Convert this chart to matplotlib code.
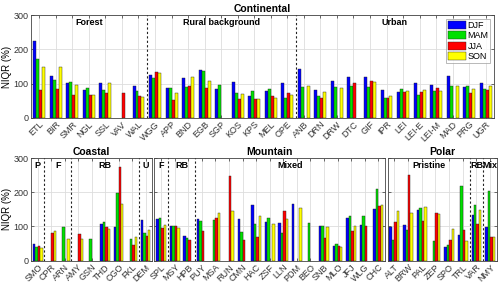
import numpy as np
import matplotlib
matplotlib.use('Agg')
import matplotlib.pyplot as plt
from matplotlib.patches import Patch

nan = np.nan

# Continental stations
cont_names = ['ETL', 'BIR', 'SMR', 'NGL', 'SSL', 'VAV', 'WAL', 'WGG', 'APP', 'BND',
              'EGB', 'SGP', 'KOS', 'KPS', 'MEL', 'OPE', 'ANB', 'DRN', 'DRW', 'DTC',
              'GIF', 'IPR', 'LEI', 'LEI-E', 'LEI-M', 'MAD', 'PRG', 'UGR']
cont_djf = [224, 123, 102, 80, 101, nan, 92, 126, 87, 117, 140, 83, 105, 63, 78, 101,
            143, 82, 107, 120, 120, 80, 75, 101, 95, 121, 91, 101]
cont_mam = [171, 109, 103, 86, 80, nan, 77, 116, 88, 89, 136, 96, 72, 78, 83, 59,
            91, 63, 89, 93, 90, 59, 83, 66, 78, 93, 93, 83]
cont_jja = [80, 85, 65, 67, 71, 72, 62, 133, 53, 93, 88, nan, 54, 55, 62, 71,
            nan, 59, nan, 102, 107, 59, 74, 74, 88, nan, 72, 81]
cont_son = [147, 147, 96, 67, 101, nan, 61, 130, 73, 119, 107, nan, 69, 56, 58, 66,
            93, 75, 87, nan, 104, 64, 78, 81, 79, 92, 84, 92]
cont_groups = [('Forest', 7), ('Rural background', 9), ('Urban', 12)]

# Coastal stations
coast_names = ['SMO', 'CPR', 'ARN', 'AMY', 'GSN', 'THD', 'CGO', 'FKL', 'DEM']
coast_djf = [49, nan, nan, nan, nan, 108, 97, nan, 119]
coast_mam = [41, nan, 98, nan, 63, 114, 197, 63, 81]
coast_jja = [43, 82, nan, 77, nan, 97, 273, 45, 73]
coast_son = [36, 88, 63, 63, nan, 92, 165, 70, 91]
coast_groups = [('P', 1), ('F', 2), ('RB', 5), ('U', 1)]

# Mountain stations
mount_names = ['SPL', 'MSY', 'HPB', 'PUY', 'MSA', 'RUN', 'CMN', 'HAC', 'ZSF', 'LLN',
               'PDM', 'BEO', 'SNB', 'MLO', 'JFJ', 'WLG', 'CHC']
mount_djf = [121, 101, 71, 122, nan, nan, 121, 162, 112, 109, 165, nan, 102, 43, 126, 104, 152]
mount_mam = [126, 101, 66, 116, 119, nan, 84, 107, 125, 81, nan, 111, 102, 48, 130, 130, 211]
mount_jja = [95, 100, 61, 87, 126, 247, 61, 69, nan, 145, nan, nan, 67, 43, 87, 102, 160]
mount_son = [105, 95, nan, nan, 140, 146, nan, 132, 108, 121, 153, nan, 97, 39, 101, nan, 162]
mount_groups = [('F', 1), ('RB', 2), ('Mixed', 14)]

# Polar stations
polar_names = ['ALT', 'BRW', 'PAL', 'ZEP', 'SPO', 'TRL', 'VAR', 'NMY']
polar_djf = [98, 103, 149, nan, 41, 74, 134, 98]
polar_mam = [61, 89, 153, 56, 45, 218, 162, 205]
polar_jja = [112, 252, 115, 140, 61, 90, 108, 70]
polar_son = [146, 138, 156, 136, 92, 57, 148, 68]
polar_groups = [('Pristine', 6), ('RB', 1), ('Mix', 1)]

seasons = ['DJF', 'MAM', 'JJA', 'SON']
colors = ['#0000ff', '#00e000', '#ff0000', '#ffff00']

plt.rcParams['font.family'] = ['Liberation Sans', 'DejaVu Sans']
plt.rcParams['font.size'] = 6.5
plt.rcParams['axes.edgecolor'] = '#444444'
plt.rcParams['xtick.color'] = '#333333'
plt.rcParams['ytick.color'] = '#333333'

fig = plt.figure(figsize=(5.0, 2.87), dpi=100)


def draw_panel(ax, names, series, groups, title, ylabel, ylabels=True, grp_fs=6.5):
    x = np.arange(len(names))
    w = 0.18
    for i, (vals, c) in enumerate(zip(series, colors)):
        ax.bar(x + (i - 1.5) * w, vals, width=w, color=c, edgecolor='#222222',
               linewidth=0.3, zorder=3)
    ax.set_xlim(-0.5, len(names) - 0.5)
    ax.set_ylim(0, 300)
    ax.set_yticks([0, 100, 200, 300])
    ax.set_xticks(x)
    ax.set_xticklabels(names, rotation=45, ha='right', rotation_mode='anchor', fontsize=6.5)
    ax.tick_params(direction='in', length=2, width=0.5, top=True, right=True, pad=2)
    ax.tick_params(axis='x', pad=1.5)
    if not ylabels:
        ax.set_yticklabels([])
    else:
        ax.set_ylabel(ylabel, fontsize=7, labelpad=1)
    ax.grid(True, color='#dddddd', linewidth=0.6, zorder=0)
    ax.set_axisbelow(True)
    ax.set_title(title, fontsize=7.5, fontweight='bold', pad=2)
    for sp in ax.spines.values():
        sp.set_linewidth(0.6)
    start = 0
    for k, (lab, n) in enumerate(groups):
        ax.text(start + n / 2 - 0.5, 293, lab, ha='center', va='top', fontsize=grp_fs,
                fontweight='bold', zorder=5)
        start += n
        if k < len(groups) - 1:
            ax.axvline(start - 0.5, color='#222222', linestyle=(0, (2, 2)), linewidth=0.8, zorder=4)


ax_top = fig.add_axes([0.062, 0.590, 0.926, 0.357])
draw_panel(ax_top, cont_names, [cont_djf, cont_mam, cont_jja, cont_son], cont_groups,
           'Continental', 'NIQR (%)')
handles = [Patch(facecolor=c, edgecolor='#222222', linewidth=0.3) for c in colors]
leg = ax_top.legend(handles, seasons, loc='upper right', fontsize=6.5, frameon=True,
                    fancybox=False, edgecolor='#999999', handlelength=2.0, handleheight=1.0,
                    handletextpad=0.2, borderpad=0.2, labelspacing=0.15,
                    borderaxespad=0.4)
leg.get_frame().set_linewidth(0.6)

ax_c = fig.add_axes([0.062, 0.092, 0.2426, 0.357])
draw_panel(ax_c, coast_names, [coast_djf, coast_mam, coast_jja, coast_son], coast_groups,
           'Coastal', 'NIQR (%)')

ax_m = fig.add_axes([0.3086, 0.092, 0.4614, 0.357])
draw_panel(ax_m, mount_names, [mount_djf, mount_mam, mount_jja, mount_son], mount_groups,
           'Mountain', '', ylabels=False)

ax_p = fig.add_axes([0.775, 0.092, 0.219, 0.357])
draw_panel(ax_p, polar_names, [polar_djf, polar_mam, polar_jja, polar_son], polar_groups,
           'Polar', '', ylabels=False)

fig.savefig('out.png', dpi=100)
